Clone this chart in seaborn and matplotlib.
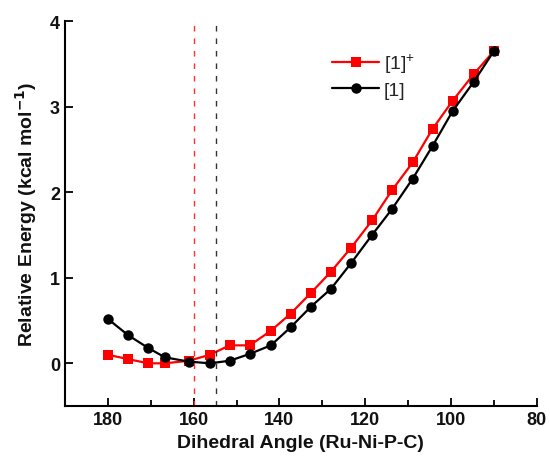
import numpy as np
import pandas as pd
import matplotlib
matplotlib.use("Agg")
import matplotlib.pyplot as plt
import seaborn as sns
from matplotlib.ticker import MultipleLocator

sns.set_theme(style="ticks")
plt.rcParams['font.family'] = ['Liberation Sans', 'DejaVu Sans']

# dihedral scan points (deg)
angles = [180.0, 175.3, 170.6, 166.7, 161.1, 156.2, 151.6, 146.9, 142.0, 137.4,
          132.7, 128.0, 123.3, 118.4, 113.8, 108.9, 104.3, 99.6, 94.7, 90.0]
energy_cation = [0.10, 0.05, 0.0, 0.0, 0.03, 0.10, 0.21, 0.21, 0.38, 0.58,
                 0.82, 1.07, 1.35, 1.67, 2.02, 2.35, 2.74, 3.07, 3.38, 3.65]
energy_neutral = [0.52, 0.33, 0.18, 0.07, 0.02, 0.0, 0.03, 0.11, 0.21, 0.42,
                  0.66, 0.87, 1.17, 1.50, 1.80, 2.16, 2.54, 2.95, 3.29, 3.65]
series_labels = [r'[1]$^{\mathregular{+}}$', '[1]']
minima = [159.8, 154.8]

df = pd.DataFrame({
    'angle': angles * 2,
    'energy': energy_cation + energy_neutral,
    'species': [series_labels[0]] * len(angles) + [series_labels[1]] * len(angles),
})

fig = plt.figure(figsize=(5.5, 4.6), dpi=100)
ax = fig.add_axes([0.118, 0.115, 0.858, 0.837])

sns.lineplot(data=df, x='angle', y='energy', hue='species', style='species',
             palette={series_labels[0]: '#ff0000', series_labels[1]: 'black'},
             markers={series_labels[0]: 's', series_labels[1]: 'o'},
             dashes=False, markersize=7.5, markeredgewidth=0, linewidth=1.6,
             sort=False, ax=ax)

ax.axvline(minima[0], ymin=0, ymax=0.99, color='#ff3030', linestyle=(0, (4, 5)), linewidth=1.0)
ax.axvline(minima[1], ymin=0, ymax=0.99, color='#333333', linestyle=(0, (4, 5)), linewidth=1.0)

ax.set_xlim(190, 80)
ax.set_ylim(-0.5, 4)
ax.xaxis.set_major_locator(MultipleLocator(20))
ax.xaxis.set_minor_locator(MultipleLocator(10))
ax.yaxis.set_major_locator(MultipleLocator(1))
ax.tick_params(axis='both', which='major', direction='in', length=6, width=1.3,
               labelsize=13, color='black', labelcolor='#111111')
ax.tick_params(axis='x', which='minor', direction='in', length=4, width=1.3, color='black')
for lab in ax.get_xticklabels() + ax.get_yticklabels():
    lab.set_fontweight('bold')

ax.set_xlabel('Dihedral Angle (Ru-Ni-P-C)', fontsize=14, fontweight='bold', labelpad=4, color='#111111')
ax.set_ylabel(r'Relative Energy (kcal mol$^{\mathbf{-1}}$)', fontsize=14, fontweight='bold',
              labelpad=8, color='#111111')

sns.despine(ax=ax)
for s in ['left', 'bottom']:
    ax.spines[s].set_linewidth(1.5)
    ax.spines[s].set_color('black')

ax.legend(title=None, frameon=False, fontsize=14, loc='center left',
          bbox_to_anchor=(0.55, 0.86), handlelength=2.4, handletextpad=0.25,
          labelspacing=0.35, borderaxespad=0)

fig.savefig('out.png', dpi=100)
